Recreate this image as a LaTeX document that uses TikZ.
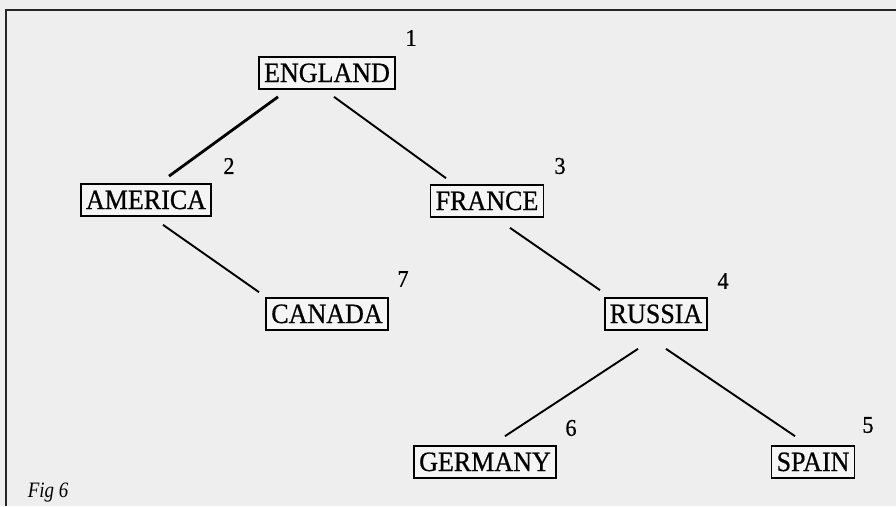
\documentclass[tikz,border=0pt]{standalone}
\usepackage{fontspec}
\setmainfont{Liberation Serif}
\newfontfamily\condserif[FakeStretch=0.93,FakeBold=0.6]{Liberation Serif}
\newfontfamily\condital[FakeStretch=0.86]{Liberation Serif}
\usetikzlibrary{calc}
\begin{document}
\begin{tikzpicture}[x=1pt,y=-1pt,
  country/.style={draw=black,line width=1.7pt,fill=white!96!black,font=\condserif\fontsize{28}{28}\selectfont,inner xsep=5pt,inner ysep=0pt,minimum height=32pt,text height=19pt,text depth=1pt},
  num/.style={font=\condserif\fontsize{24}{24}\selectfont,inner sep=0pt},
  link/.style={line width=1.9pt,black}]
\fill[gray!13] (0,0) rectangle (896,506);
\useasboundingbox (0,0) rectangle (896,506);
\coordinate (fa) at (6,506);
\coordinate (fb) at (6,10);
\coordinate (fc) at (896,10);
\draw[line width=1.4pt,black!85] (fa) -- (fb) -- (fc);
\node[country] (eng) at (327,73) {ENGLAND};
\node[country] (ame) at (146,200) {AMERICA};
\node[country] (fra) at (487,201) {FRANCE};
\node[country] (can) at (327,314) {CANADA};
\node[country] (rus) at (656,314) {RUSSIA};
\node[country] (ger) at (485,462) {GERMANY};
\node[country] (spa) at (813,462) {SPAIN};
\node[num] (n1) at (411,38) {1};
\node[num] (n2) at (229,166) {2};
\node[num] (n3) at (560,166) {3};
\node[num] (n7) at (403,279) {7};
\node[num] (n4) at (723,281) {4};
\node[num] (n6) at (571,428) {6};
\node[num] (n5) at (868,425) {5};
\node[font=\condital\fontsize{22}{22}\selectfont\itshape,inner sep=0pt] (fig) at (48,493) {Fig 6};
\draw[link,line width=2.8pt] ($(eng.south)+(-49,7)$) -- ($(ame.north)+(23,-7)$);
\draw[link] ($(eng.south)+(7,7)$) -- ($(fra.north)+(-41,-6)$);
\draw[link] ($(ame.south)+(17,8)$) -- ($(can.north)+(-68,-5)$);
\draw[link] ($(fra.south)+(23,10)$) -- ($(rus.north)+(-56,-7)$);
\draw[link] ($(rus.south)+(-18,18)$) -- ($(ger.north)+(20,-9)$);
\draw[link] ($(rus.south)+(10,18)$) -- ($(spa.north)+(-18,-9)$);
\end{tikzpicture}
\end{document}
